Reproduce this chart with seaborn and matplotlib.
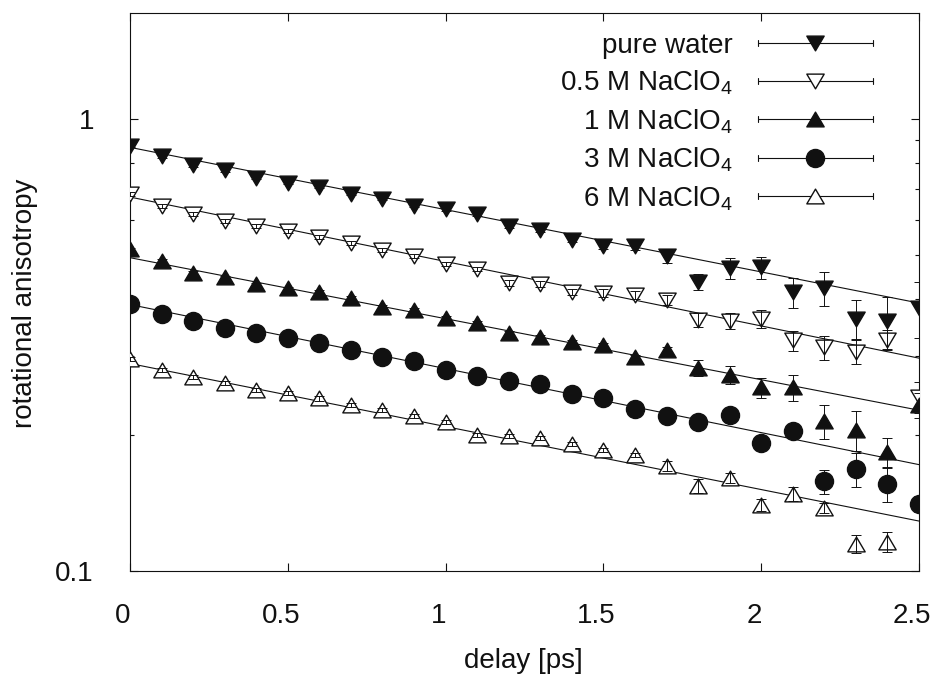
import numpy as np
import pandas as pd
import matplotlib
matplotlib.use("Agg")
import matplotlib.pyplot as plt
import matplotlib.transforms as mtransforms
from matplotlib.lines import Line2D
from matplotlib.markers import MarkerStyle
from matplotlib.path import Path
from matplotlib.legend_handler import HandlerBase
from matplotlib.ticker import LogLocator, NullFormatter
import seaborn as sns

# ---------------- data ----------------
delay = [0.0, 0.1, 0.2, 0.3, 0.4, 0.5, 0.6, 0.7, 0.8, 0.9, 1.0, 1.1, 1.2,
         1.3, 1.4, 1.5, 1.6, 1.7, 1.8, 1.9, 2.0, 2.1, 2.2, 2.3, 2.4, 2.5]

labels = ["pure water", "0.5 M NaClO$_4$", "1 M NaClO$_4$",
          "3 M NaClO$_4$", "6 M NaClO$_4$"]

pure_water = [0.874, 0.828, 0.791, 0.771, 0.743, 0.724, 0.710, 0.684, 0.667,
              0.643, 0.633, 0.618, 0.582, 0.569, 0.541, 0.525, 0.524, 0.498,
              0.436, 0.468, 0.470, 0.414, 0.423, 0.362, 0.357, 0.382]
pure_water_err = [0.0067, 0.0064, 0.0061, 0.0059, 0.0057, 0.0056, 0.0055,
                  0.0053, 0.0051, 0.0049, 0.0049, 0.0063, 0.0060, 0.0058,
                  0.0055, 0.0081, 0.0107, 0.0178, 0.0179, 0.0240, 0.0265,
                  0.0318, 0.0368, 0.0352, 0.0475, 0.0548]

nacl_05 = [0.682, 0.644, 0.617, 0.597, 0.581, 0.566, 0.550, 0.532, 0.515,
           0.498, 0.478, 0.466, 0.435, 0.433, 0.415, 0.412, 0.409, 0.399,
           0.360, 0.358, 0.361, 0.324, 0.313, 0.306, 0.325, 0.243]
nacl_05_err = [0.0070, 0.0066, 0.0063, 0.0061, 0.0059, 0.0058, 0.0056,
               0.0054, 0.0053, 0.0051, 0.0049, 0.0048, 0.0067, 0.0067,
               0.0064, 0.0084, 0.0084, 0.0102, 0.0129, 0.0147, 0.0166,
               0.0166, 0.0192, 0.0188, 0.0166, 0.0187]

nacl_1 = [0.516, 0.486, 0.458, 0.447, 0.431, 0.423, 0.415, 0.403, 0.385,
          0.379, 0.364, 0.355, 0.336, 0.329, 0.321, 0.316, 0.298, 0.309,
          0.282, 0.272, 0.255, 0.255, 0.215, 0.205, 0.183, 0.233]
nacl_1_err = [0.0040, 0.0037, 0.0035, 0.0034, 0.0033, 0.0032, 0.0032,
              0.0031, 0.0030, 0.0029, 0.0028, 0.0027, 0.0034, 0.0034,
              0.0033, 0.0032, 0.0031, 0.0047, 0.0116, 0.0125, 0.0131,
              0.0170, 0.0187, 0.0210, 0.0141, 0.0143]

nacl_3 = [0.391, 0.371, 0.358, 0.346, 0.336, 0.328, 0.319, 0.308, 0.298,
          0.291, 0.278, 0.270, 0.264, 0.259, 0.247, 0.242, 0.228, 0.220,
          0.214, 0.222, 0.192, 0.204, 0.158, 0.168, 0.156, 0.141]
nacl_3_err = [0.0030, 0.0030, 0.0030, 0.0030, 0.0030, 0.0030, 0.0030,
              0.0030, 0.0030, 0.0030, 0.0025, 0.0025, 0.0025, 0.0025,
              0.0025, 0.0025, 0.0025, 0.0025, 0.0025, 0.0025, 0.0039,
              0.0042, 0.0097, 0.0146, 0.0136, 0.0058]

nacl_6 = [0.294, 0.278, 0.269, 0.261, 0.252, 0.248, 0.241, 0.233, 0.227,
          0.220, 0.214, 0.200, 0.199, 0.197, 0.191, 0.185, 0.181, 0.171,
          0.154, 0.161, 0.140, 0.148, 0.138, 0.115, 0.116]
nacl_6_err = [0.0030, 0.0028, 0.0028, 0.0027, 0.0026, 0.0025, 0.0025,
              0.0024, 0.0023, 0.0023, 0.0022, 0.0020, 0.0020, 0.0020,
              0.0020, 0.0019, 0.0019, 0.0044, 0.0055, 0.0041, 0.0043,
              0.0053, 0.0035, 0.0053, 0.0059]

# single-exponential fits: value at the start and end of the delay window
fit_start = [0.867, 0.673, 0.494, 0.389, 0.288]
fit_end = [0.392, 0.296, 0.227, 0.172, 0.129]

xtick_vals = [0, 0.5, 1, 1.5, 2, 2.5]
xtick_labels = ["0", "0.5", "1", "1.5", "2", "2.5"]
ytick_vals = [0.1, 1]
ytick_labels = ["0.1", "1"]

# ---------------- style ----------------
sns.set_theme(style="ticks")
plt.rcParams["font.family"] = ["Liberation Sans", "DejaVu Sans"]
plt.rcParams["mathtext.fontset"] = "custom"
plt.rcParams["mathtext.rm"] = "Liberation Sans"
plt.rcParams["mathtext.it"] = "Liberation Sans:italic"
plt.rcParams["mathtext.default"] = "regular"
INK = "#111111"
plt.rcParams["text.color"] = INK
plt.rcParams["axes.labelcolor"] = INK
plt.rcParams["xtick.color"] = INK
plt.rcParams["ytick.color"] = INK
plt.rcParams["axes.edgecolor"] = INK


def closed_marker(pts):
    verts = list(pts) + [pts[0]]
    codes = [Path.MOVETO] + [Path.LINETO] * (len(pts) - 1) + [Path.CLOSEPOLY]
    return MarkerStyle(Path(verts, codes))


tri_down = closed_marker([(-1, 0.85), (1, 0.85), (0, -0.85)])
tri_up = closed_marker([(-1, -0.85), (1, -0.85), (0, 0.85)])

series = [
    (pure_water, pure_water_err, tri_down, INK, 12.5),
    (nacl_05, nacl_05_err, tri_down, "white", 12.5),
    (nacl_1, nacl_1_err, tri_up, INK, 12.5),
    (nacl_3, nacl_3_err, "o", INK, 13.0),
    (nacl_6, nacl_6_err, tri_up, "white", 12.5),
]

fig = plt.figure(figsize=(9.31, 6.84), dpi=100)
ax = fig.add_axes([130 / 931, 1 - 571 / 684, 789 / 931, 558 / 684])
ax.set_yscale("log")

legend_handles = []
for k, (vals, errs, mk, fc, ms) in enumerate(series):
    n = len(vals)
    x = delay[:n]
    # fitted exponential (straight line on the log axis)
    sns.lineplot(x=[delay[0], delay[-1]], y=[fit_start[k], fit_end[k]],
                 ax=ax, color=INK, lw=0.8, zorder=2, legend=False)
    sns.scatterplot(x=x, y=vals, ax=ax, marker=mk, s=ms ** 2, color=fc,
                    edgecolor=INK, linewidth=1.0, zorder=3, legend=False)
    ax.errorbar(x, vals, yerr=errs, fmt="none", ecolor=INK, elinewidth=0.7,
                capsize=3.5, capthick=0.7, zorder=4)
    legend_handles.append(Line2D([], [], marker=mk, ms=ms, mfc=fc, mec=INK,
                                 mew=1.0, ls="none"))

ax.set_xlim(0, 2.5)
ax.set_ylim(0.1, 1.72)


class GnuplotErrHandler(HandlerBase):
    def create_artists(self, legend, orig_handle, xdescent, ydescent,
                       width, height, fontsize, trans):
        y = (height - ydescent) / 2
        x0, x1 = -xdescent, width - xdescent
        cap = 2.2
        arts = [
            Line2D([x0, x1], [y, y], color=INK, lw=0.8),
            Line2D([x0, x0], [y - cap, y + cap], color=INK, lw=0.8),
            Line2D([x1, x1], [y - cap, y + cap], color=INK, lw=0.8),
            Line2D([(x0 + x1) / 2], [y], marker=orig_handle.get_marker(),
                   ms=orig_handle.get_markersize(),
                   mfc=orig_handle.get_markerfacecolor(), mec=INK, mew=1.0,
                   ls="none"),
        ]
        for a in arts:
            a.set_transform(trans)
        return arts


leg = ax.legend(legend_handles, labels, loc="upper right",
                bbox_to_anchor=(0.9417, 0.965), borderaxespad=0, borderpad=0,
                frameon=False, fontsize=20, markerfirst=False,
                handlelength=4.15, handletextpad=0.9, labelspacing=0.36,
                handler_map={Line2D: GnuplotErrHandler()})

# ticks
ax.set_xticks(xtick_vals)
ax.set_xticklabels(xtick_labels)
ax.set_yticks(ytick_vals)
ax.set_yticklabels(ytick_labels)
ax.yaxis.set_minor_locator(LogLocator(base=10, subs=np.arange(2, 10) * 1.0,
                                      numticks=20))
ax.yaxis.set_minor_formatter(NullFormatter())
ax.tick_params(which="both", direction="in", top=True, right=True,
               bottom=True, left=True, width=0.8)
ax.tick_params(which="major", length=6, labelsize=20)
ax.tick_params(which="minor", length=3)
ax.tick_params(axis="x", which="minor", top=False, bottom=False)
ax.tick_params(axis="x", pad=23)
ax.tick_params(axis="y", pad=26)
off = mtransforms.ScaledTranslation(-7 / 100, 0, fig.dpi_scale_trans)
for lab in ax.get_xticklabels():
    lab.set_transform(lab.get_transform() + off)

for sp in ax.spines.values():
    sp.set_linewidth(0.8)
    sp.set_visible(True)

ax.set_xlabel("delay [ps]", fontsize=20)
ax.set_ylabel("rotational anisotropy", fontsize=20)
ax.xaxis.set_label_coords(0.498, -0.138)
ax.yaxis.set_label_coords(-0.1166, 0.48)

fig.savefig("out.png", dpi=100)
